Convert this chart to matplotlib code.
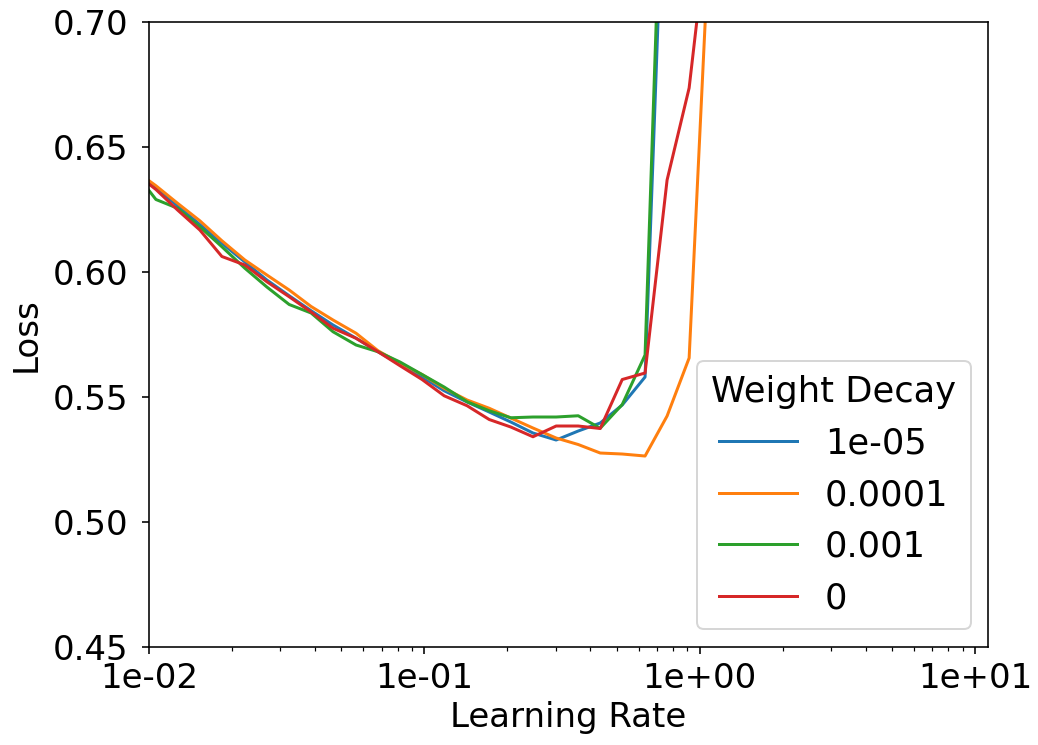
import numpy as np
import matplotlib
matplotlib.use("Agg")
import matplotlib.pyplot as plt
from matplotlib.ticker import FormatStrFormatter, FuncFormatter

# learning rates visited by the range test
lr = [0.0088, 0.0106, 0.0127, 0.0153, 0.0184, 0.0223, 0.0268, 0.0323, 0.0388,
      0.0466, 0.0565, 0.0679, 0.0816, 0.0981, 0.118, 0.143, 0.172, 0.206,
      0.248, 0.301, 0.362, 0.435, 0.523, 0.633, 0.761, 0.915, 1.10]

loss_1e5 = [0.640, 0.6335, 0.6265, 0.6190, 0.6115, 0.6040, 0.5968, 0.5905,
            0.5845, 0.5788, 0.5735, 0.5681, 0.5630, 0.5580, 0.5525, 0.5480,
            0.5440, 0.5400, 0.5356, 0.5328, 0.5364, 0.5396, 0.5468, 0.5580,
            0.80]
loss_1e4 = [0.641, 0.6345, 0.6275, 0.6205, 0.6125, 0.6048, 0.5988, 0.5928,
            0.5862, 0.5808, 0.5755, 0.5685, 0.5635, 0.5590, 0.5535, 0.5488,
            0.5455, 0.5416, 0.5376, 0.5336, 0.5310, 0.5276, 0.5272, 0.5264,
            0.5424, 0.5656, 0.75]
loss_1e3 = [0.6405, 0.6290, 0.6255, 0.6181, 0.6101, 0.6015, 0.5940, 0.5870,
            0.5836, 0.5761, 0.5708, 0.5681, 0.5640, 0.5590, 0.5540, 0.5481,
            0.5445, 0.5417, 0.5420, 0.5420, 0.5425, 0.5375, 0.5470, 0.5668,
            0.83]
loss_0 = [0.640, 0.6330, 0.6248, 0.6168, 0.6062, 0.6028, 0.5961, 0.5901,
          0.5840, 0.5775, 0.5735, 0.5681, 0.5625, 0.5570, 0.5505, 0.5465,
          0.5410, 0.5380, 0.5341, 0.5384, 0.5384, 0.5374, 0.5570, 0.5596,
          0.6368, 0.6736, 0.75]

series = [(loss_1e5, "1e-05"), (loss_1e4, "0.0001"),
          (loss_1e3, "0.001"), (loss_0, "0")]

plt.rcParams["font.size"] = 17
fig = plt.figure(figsize=(1038 / 144, 745 / 144), dpi=144)
ax = fig.add_axes([0.1435, 0.1315, 0.8085, 0.839])

for loss, name in series:
    ax.plot(lr[:len(loss)], loss, lw=1.5, label=name)

ax.set_xscale("log")
ax.set_xlim(1e-2, 11.15)
ax.set_ylim(0.45, 0.70)
ax.set_yticks([0.45, 0.50, 0.55, 0.60, 0.65, 0.70])
ax.yaxis.set_major_formatter(FormatStrFormatter("%.2f"))
ax.xaxis.set_major_formatter(FuncFormatter(lambda v, p: "%.0e" % v))
ax.tick_params(axis="y", which="major", pad=7)
ax.tick_params(axis="x", which="major", pad=4)
ax.set_xlabel("Learning Rate", labelpad=3)
ax.set_ylabel("Loss", labelpad=5)
ax.legend(title="Weight Decay", loc="lower right", fontsize=17.6,
          title_fontsize=17.6, handlelength=2.2, borderaxespad=0.5)

fig.savefig("out.png", dpi=144)
